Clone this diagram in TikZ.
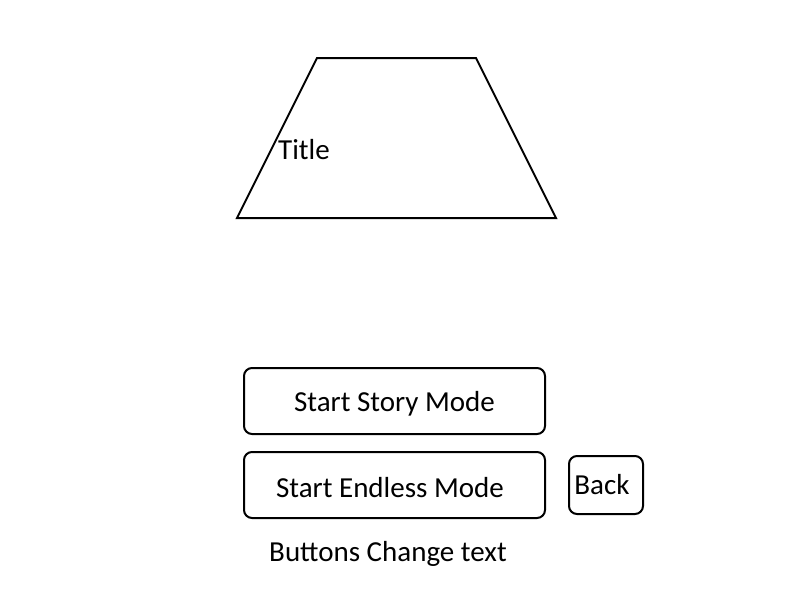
\documentclass[tikz,border=0pt]{standalone}
\usepackage{fontspec}
\setmainfont{Carlito}
\begin{document}
\begin{tikzpicture}[x=1pt,y=-1pt,
  btn/.style={draw,line width=2pt,rounded corners=8pt},
  lbl/.style={font=\fontsize{29}{34}\selectfont,inner sep=0pt}]
\useasboundingbox[fill=white] (0,0) rectangle (800,600);
\draw[line width=2pt,line join=miter] (317,58) -- (476,58) -- (556,218) -- (237,218) -- cycle;
\node[lbl,anchor=base west] (title) at (278,159) {Title};
\draw[btn] (244,368) rectangle (545,434);
\node[lbl] (story) at (394.5,404) {Start Story Mode};
\draw[btn] (244,452) rectangle (545,518);
\node[lbl] (endless) at (390,488) {Start Endless Mode};
\draw[btn] (569,456) rectangle (643,514);
\node[lbl] (back) at (602,485) {Back};
\node[lbl] (note) at (388,554) {Buttons Change text};
\end{tikzpicture}
\end{document}
